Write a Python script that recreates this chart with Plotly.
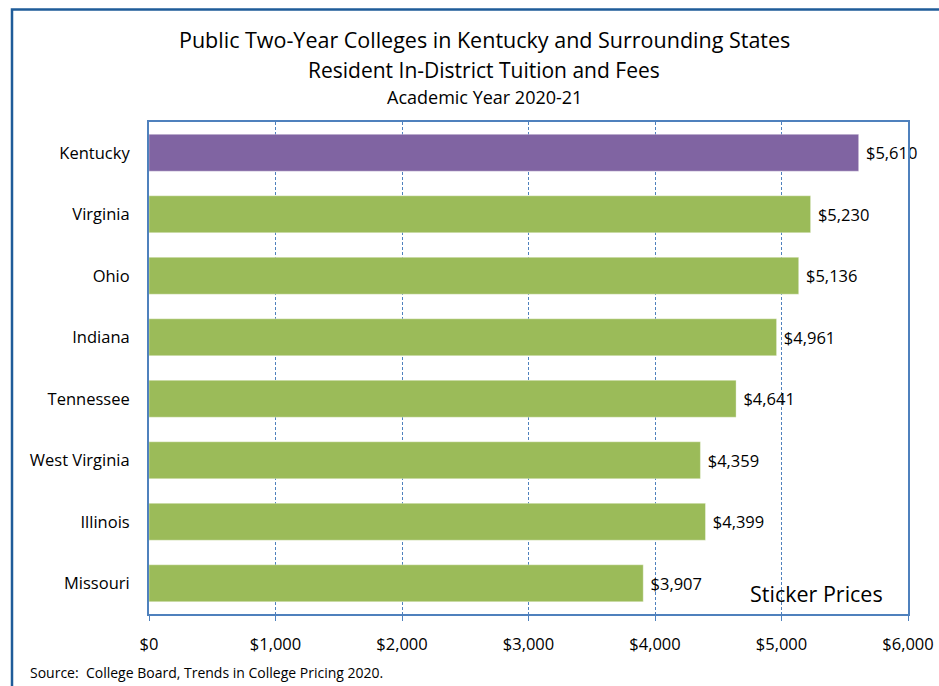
import plotly.graph_objects as go

# Tuition and fees by state, 2020-21
states = ["Kentucky", "Virginia", "Ohio", "Indiana", "Tennessee",
          "West Virginia", "Illinois", "Missouri"]
tuition = [5610, 5230, 5136, 4961, 4641, 4359, 4399, 3907]
highlight_state = "Kentucky"

x_ticks = [0, 1000, 2000, 3000, 4000, 5000, 6000]
x_tick_labels = ["$0", "$1,000", "$2,000", "$3,000", "$4,000", "$5,000", "$6,000"]

PURPLE = "#8064A2"
GREEN = "#9BBB59"
FRAME = "#4F81BD"
FONT = "'Open Sans', 'Noto Sans', sans-serif"

# plot-area geometry in pixels
W, H = 939, 686
L, R, T, B = 149, 31, 122, 72
PW, PH = W - L - R, H - T - B

def px_x(x):
    return (x - L) / PW

def px_y(y):
    return 1 - (y - T) / PH

colors = [PURPLE if s == highlight_state else GREEN for s in states]

fig = go.Figure(go.Bar(
    x=tuition, y=states, orientation="h",
    marker=dict(color=colors, line=dict(color="rgba(255,255,255,0.35)", width=1)),
    text=tuition, texttemplate=" $%{x:,.0f}", textposition="outside",
    textfont=dict(size=16.5, color="#000000", family=FONT),
    cliponaxis=False, width=0.6, hoverinfo="skip",
))

fig.update_layout(
    width=W, height=H,
    margin=dict(l=L, r=R, t=T, b=B, pad=0, autoexpand=False),
    paper_bgcolor="white", plot_bgcolor="white",
    font=dict(family=FONT, color="#000000"),
    showlegend=False,
    xaxis=dict(
        range=[0, 6000], tickvals=x_ticks, ticktext=x_tick_labels,
        showgrid=True, gridcolor=FRAME, gridwidth=1, griddash="3px,2px",
        showline=True, linecolor=FRAME, linewidth=2, mirror=True,
        ticks="outside", ticklen=5, tickcolor=FRAME, ticklabelstandoff=9,
        tickfont=dict(size=16.5, family=FONT), zeroline=False, fixedrange=True,
        automargin=False,
    ),
    yaxis=dict(
        categoryorder="array", categoryarray=states, autorange="reversed",
        showline=True, linecolor=FRAME, linewidth=2, mirror=True,
        ticks="", ticklabelstandoff=14, automargin=False,
        tickfont=dict(size=16.5, family=FONT), showgrid=False, fixedrange=True,
    ),
    annotations=[
        dict(text="Public Two-Year Colleges in Kentucky and Surrounding States",
             x=px_x(484), y=px_y(40), xref="paper", yref="paper",
             showarrow=False, font=dict(size=21.5), xanchor="center", yanchor="middle"),
        dict(text="Resident In-District Tuition and Fees",
             x=px_x(484), y=px_y(70), xref="paper", yref="paper",
             showarrow=False, font=dict(size=21), xanchor="center", yanchor="middle"),
        dict(text="Academic Year 2020-21",
             x=px_x(484), y=px_y(97), xref="paper", yref="paper",
             showarrow=False, font=dict(size=18), xanchor="center", yanchor="middle"),
        dict(text="Sticker Prices",
             x=px_x(885), y=px_y(593), xref="paper", yref="paper",
             showarrow=False, font=dict(size=21.5), xanchor="right", yanchor="middle"),
        dict(text="Source:  College Board, Trends in College Pricing 2020.",
             x=px_x(28), y=px_y(672), xref="paper", yref="paper",
             showarrow=False, font=dict(size=14), xanchor="left", yanchor="middle"),
    ],
    shapes=[
        dict(type="rect", xref="paper", yref="paper",
             x0=px_x(12), y0=px_y(700), x1=px_x(960), y1=px_y(9.5),
             line=dict(color="#1F5C99", width=2.5), fillcolor="rgba(0,0,0,0)",
             layer="above"),
    ],
)

fig.write_html("out.html")
